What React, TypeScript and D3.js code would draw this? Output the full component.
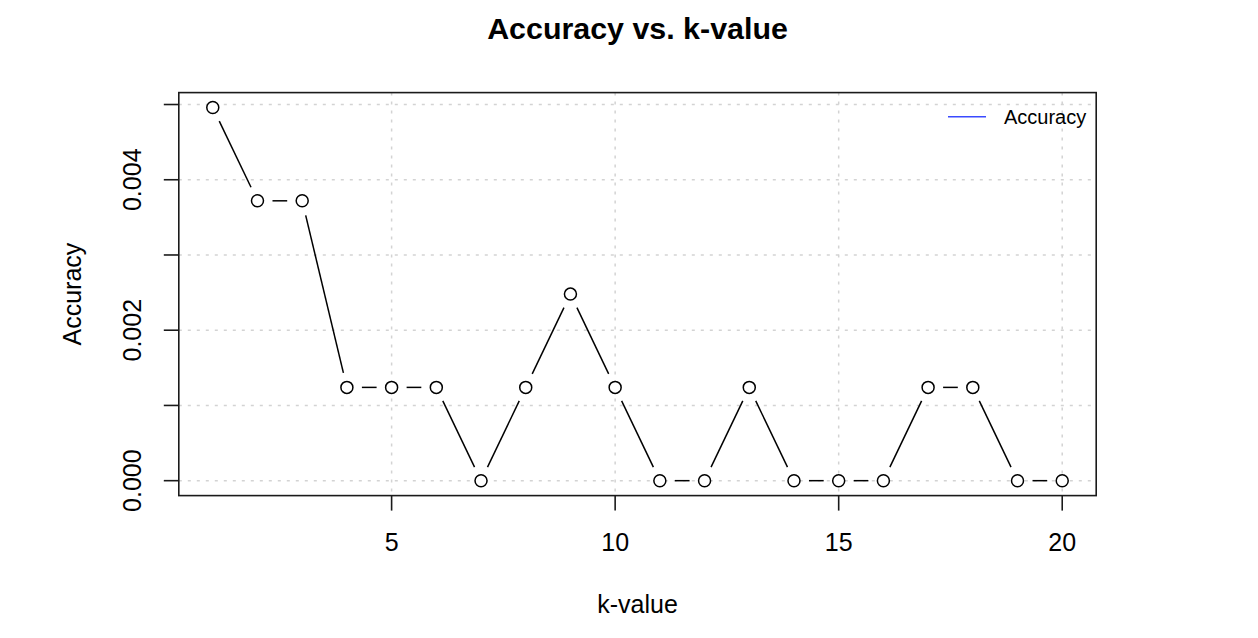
import React from 'react';
import * as d3 from 'd3';

// k-values and accuracy
const kValues = [1, 2, 3, 4, 5, 6, 7, 8, 9, 10, 11, 12, 13, 14, 15, 16, 17, 18, 19, 20];
const accuracy = [
  0.00496, 0.00372, 0.00372, 0.00124, 0.00124, 0.00124, 0, 0.00124, 0.00248, 0.00124,
  0, 0, 0.00124, 0, 0, 0, 0.00124, 0.00124, 0, 0,
];
const xTicks = [5, 10, 15, 20];
const yTicks = [0, 0.001, 0.002, 0.003, 0.004, 0.005];
const yLabelled = [0, 0.002, 0.004];

const W = 1258;
const H = 638;
const FONT = '"Liberation Sans", Arial, Helvetica, sans-serif';

// R-style axis range: data range padded by 4% each side
function rRange(vals: number[]): [number, number] {
  const lo = d3.min(vals) as number;
  const hi = d3.max(vals) as number;
  const pad = (hi - lo) * 0.04;
  return [lo - pad, hi + pad];
}

export default function App() {
  const plot = { left: 178.8, right: 1096.2, top: 92.6, bottom: 495.6 };

  const x = d3.scaleLinear().domain(rRange(kValues)).range([plot.left, plot.right]);
  const y = d3.scaleLinear().domain(rRange(accuracy)).range([plot.bottom, plot.top]);

  const pts = kValues.map((k, i) => [x(k), y(accuracy[i])] as [number, number]);

  // type = "b": segments with a gap around each point
  const gap = 15;
  const segs: [number, number, number, number][] = [];
  for (let i = 0; i < pts.length - 1; i++) {
    const [x1, y1] = pts[i];
    const [x2, y2] = pts[i + 1];
    const dx = x2 - x1;
    const dy = y2 - y1;
    const len = Math.hypot(dx, dy);
    if (len <= 2 * gap) continue;
    const ux = dx / len;
    const uy = dy / len;
    segs.push([x1 + ux * gap, y1 + uy * gap, x2 - ux * gap, y2 - uy * gap]);
  }

  const tickLen = 15;
  const ink = '#1a1a1a';

  return (
    <svg
      width={W}
      height={H}
      style={{ position: 'absolute', left: 0, top: 0, background: '#fff' }}
      fontFamily={FONT}
    >
      <rect x={0} y={0} width={W} height={H} fill="#fff" />

      {/* grid */}
      <g stroke="#d3d3d3" strokeWidth={1.5} strokeDasharray="3,6">
        {xTicks.map((t) => (
          <line key={'gx' + t} x1={x(t)} x2={x(t)} y1={plot.top} y2={plot.bottom} />
        ))}
        {yTicks.map((t) => (
          <line key={'gy' + t} x1={plot.left} x2={plot.right} y1={y(t)} y2={y(t)} />
        ))}
      </g>

      {/* series */}
      <g stroke="#000" strokeWidth={1.5}>
        {segs.map((s, i) => (
          <line key={'s' + i} x1={s[0]} y1={s[1]} x2={s[2]} y2={s[3]} />
        ))}
      </g>
      <g stroke="#000" strokeWidth={1.5} fill="#fff">
        {pts.map((p, i) => (
          <circle key={'p' + i} cx={p[0]} cy={p[1]} r={6} />
        ))}
      </g>

      {/* frame */}
      <rect
        x={plot.left}
        y={plot.top}
        width={plot.right - plot.left}
        height={plot.bottom - plot.top}
        fill="none"
        stroke={ink}
        strokeWidth={1.6}
      />

      {/* x axis */}
      <g stroke={ink} strokeWidth={1.6}>
        {xTicks.map((t) => (
          <line key={'xt' + t} x1={x(t)} x2={x(t)} y1={plot.bottom} y2={plot.bottom + tickLen} />
        ))}
      </g>
      {xTicks.map((t) => (
        <text key={'xl' + t} x={x(t)} y={551} textAnchor="middle" fontSize={25} fill="#000">
          {t}
        </text>
      ))}

      {/* y axis */}
      <g stroke={ink} strokeWidth={1.6}>
        {yTicks.map((t) => (
          <line key={'yt' + t} x1={plot.left - tickLen} x2={plot.left} y1={y(t)} y2={y(t)} />
        ))}
      </g>
      {yLabelled.map((t) => (
        <text
          key={'yl' + t}
          transform={`translate(141,${y(t)}) rotate(-90)`}
          textAnchor="middle"
          fontSize={25}
          fill="#000"
        >
          {d3.format('.3f')(t)}
        </text>
      ))}

      {/* titles */}
      <text x={(plot.left + plot.right) / 2} y={39} textAnchor="middle" fontSize={30.4} fontWeight="bold">
        Accuracy vs. k-value
      </text>
      <text x={(plot.left + plot.right) / 2} y={612.5} textAnchor="middle" fontSize={25}>
        k-value
      </text>
      <text
        transform={`translate(81,${(plot.top + plot.bottom) / 2}) rotate(-90)`}
        textAnchor="middle"
        fontSize={25}
      >
        Accuracy
      </text>

      {/* legend */}
      <line x1={948} x2={986} y1={116.7} y2={116.7} stroke="#3a4aff" strokeWidth={1.6} />
      <text x={1004} y={124} fontSize={20}>
        Accuracy
      </text>
    </svg>
  );
}
